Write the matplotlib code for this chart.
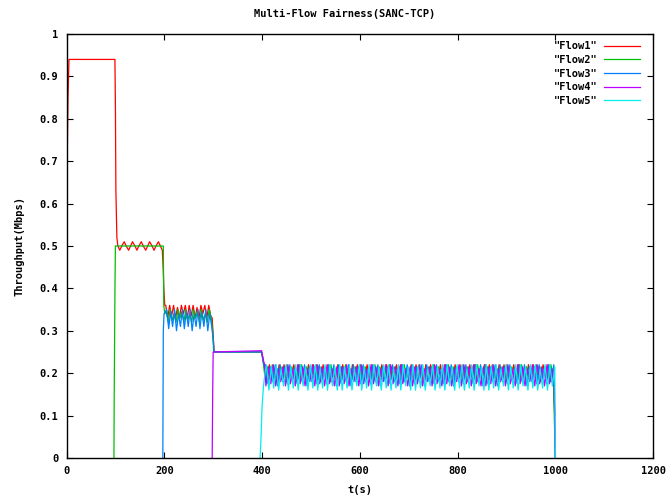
import numpy as np
import matplotlib
matplotlib.use("Agg")
import matplotlib.pyplot as plt

FONT = "DejaVu Sans Mono"
FS = 7.5
COLORS = ["#ff0000", "#00c000", "#0080ff", "#c000ff", "#00eeee"]
LABELS = ['"Flow1"', '"Flow2"', '"Flow3"', '"Flow4"', '"Flow5"']

X_TICKS = [0, 200, 400, 600, 800, 1000, 1200]
Y_TICKS = [0, 0.1, 0.2, 0.3, 0.4, 0.5, 0.6, 0.7, 0.8, 0.9, 1]
Y_TICK_LABELS = ["0", "0.1", "0.2", "0.3", "0.4", "0.5", "0.6", "0.7", "0.8", "0.9", "1"]

# ---- flow1 ----
T1_HEAD = [0, 1, 3, 5, 99, 100, 101, 103, 105,
           109, 113, 118, 122, 127, 131, 135, 140, 144, 148, 153, 157,
           162, 166, 170, 175, 179, 183, 188, 192, 196, 198, 199, 200, 201]
V1_HEAD = [0.29, 0.67, 0.85, 0.94, 0.94, 0.83, 0.63, 0.52, 0.50,
           0.49, 0.50, 0.51, 0.50, 0.49, 0.50, 0.51, 0.50, 0.49, 0.50, 0.51, 0.50,
           0.49, 0.50, 0.51, 0.50, 0.49, 0.50, 0.51, 0.50, 0.49, 0.44, 0.40, 0.38, 0.36]
V1_200 = [0.36, 0.33, 0.36, 0.335, 0.36, 0.33, 0.355, 0.33, 0.36, 0.34, 0.36, 0.33,
          0.36, 0.335, 0.36, 0.33, 0.355, 0.33, 0.36, 0.34, 0.36, 0.33, 0.36, 0.335]
T1_300 = [298, 300, 302, 399, 401, 403]
V1_300 = [0.33, 0.29, 0.25, 0.25, 0.24, 0.225]
V1_400 = [0.22, 0.18, 0.22, 0.19, 0.21, 0.18, 0.22, 0.185, 0.22, 0.18,
          0.215, 0.19, 0.22, 0.18, 0.22, 0.185, 0.21, 0.18, 0.22, 0.19,
          0.22, 0.185, 0.215, 0.18, 0.22, 0.19, 0.22, 0.18, 0.21, 0.185,
          0.22, 0.18, 0.22, 0.19, 0.21, 0.18, 0.22, 0.185, 0.22, 0.18,
          0.215, 0.19, 0.22, 0.18, 0.22, 0.185, 0.21, 0.18, 0.22, 0.19,
          0.22, 0.185, 0.215, 0.18, 0.22, 0.19, 0.22, 0.18, 0.21, 0.185,
          0.22, 0.18, 0.22, 0.19, 0.21, 0.18, 0.22, 0.185, 0.22, 0.18,
          0.215, 0.19, 0.22, 0.18, 0.22, 0.185, 0.21, 0.18, 0.22, 0.19,
          0.22, 0.185, 0.215, 0.18, 0.22, 0.19, 0.22, 0.18, 0.21, 0.185,
          0.22, 0.18, 0.22, 0.19, 0.21, 0.18, 0.22, 0.185, 0.22, 0.18,
          0.215, 0.19, 0.22, 0.18, 0.22, 0.185, 0.21, 0.18, 0.22, 0.19,
          0.22, 0.185, 0.215, 0.18, 0.22, 0.19, 0.22, 0.18, 0.21]
T1_END = [999]
V1_END = [0.10]

# ---- flow2 ----
T2_HEAD = [97, 97.5, 99, 100, 150, 198, 199, 201]
V2_HEAD = [0, 0.137, 0.39, 0.50, 0.50, 0.50, 0.36, 0.34]
V2_200 = [0.345, 0.32, 0.35, 0.325, 0.34, 0.32, 0.35, 0.33, 0.345, 0.32, 0.35, 0.325,
          0.34, 0.32, 0.35, 0.33, 0.345, 0.32, 0.35, 0.325, 0.34, 0.32, 0.35, 0.33]
T2_300 = [299, 301, 399, 402, 404]
V2_300 = [0.30, 0.25, 0.25, 0.23, 0.21]
V2_400 = [0.19, 0.215, 0.185, 0.22, 0.19, 0.21, 0.185, 0.215, 0.19, 0.22,
          0.185, 0.215, 0.19, 0.21, 0.185, 0.22, 0.19, 0.215, 0.185, 0.21,
          0.19, 0.22, 0.185, 0.215, 0.19, 0.215, 0.185, 0.22, 0.19, 0.21,
          0.19, 0.215, 0.185, 0.22, 0.19, 0.21, 0.185, 0.215, 0.19, 0.22,
          0.185, 0.215, 0.19, 0.21, 0.185, 0.22, 0.19, 0.215, 0.185, 0.21,
          0.19, 0.22, 0.185, 0.215, 0.19, 0.215, 0.185, 0.22, 0.19, 0.21,
          0.19, 0.215, 0.185, 0.22, 0.19, 0.21, 0.185, 0.215, 0.19, 0.22,
          0.185, 0.215, 0.19, 0.21, 0.185, 0.22, 0.19, 0.215, 0.185, 0.21,
          0.19, 0.22, 0.185, 0.215, 0.19, 0.215, 0.185, 0.22, 0.19, 0.21,
          0.19, 0.215, 0.185, 0.22, 0.19, 0.21, 0.185, 0.215, 0.19, 0.22,
          0.185, 0.215, 0.19, 0.21, 0.185, 0.22, 0.19, 0.215, 0.185, 0.21,
          0.19, 0.22, 0.185, 0.215, 0.19, 0.215, 0.185, 0.22, 0.19]
T2_END = [1000]
V2_END = [0]

# ---- flow3 ----
T3_HEAD = [197, 198, 199.5]
V3_HEAD = [0, 0.30, 0.34]
V3_200 = [0.35, 0.305, 0.345, 0.31, 0.35, 0.30, 0.34, 0.31, 0.35, 0.305, 0.345, 0.31,
          0.35, 0.30, 0.34, 0.31, 0.35, 0.305, 0.345, 0.31, 0.35, 0.30, 0.34, 0.31]
T3_300 = [300, 302, 399, 402, 405]
V3_300 = [0.28, 0.25, 0.25, 0.23, 0.215]
V3_400 = [0.22, 0.175, 0.215, 0.18, 0.22, 0.17, 0.22, 0.18, 0.215, 0.175,
          0.22, 0.18, 0.21, 0.175, 0.22, 0.18, 0.22, 0.17, 0.215, 0.18,
          0.215, 0.175, 0.22, 0.18, 0.21, 0.175, 0.22, 0.18, 0.22, 0.17,
          0.22, 0.175, 0.215, 0.18, 0.22, 0.17, 0.22, 0.18, 0.215, 0.175,
          0.22, 0.18, 0.21, 0.175, 0.22, 0.18, 0.22, 0.17, 0.215, 0.18,
          0.215, 0.175, 0.22, 0.18, 0.21, 0.175, 0.22, 0.18, 0.22, 0.17,
          0.22, 0.175, 0.215, 0.18, 0.22, 0.17, 0.22, 0.18, 0.215, 0.175,
          0.22, 0.18, 0.21, 0.175, 0.22, 0.18, 0.22, 0.17, 0.215, 0.18,
          0.215, 0.175, 0.22, 0.18, 0.21, 0.175, 0.22, 0.18, 0.22, 0.17,
          0.22, 0.175, 0.215, 0.18, 0.22, 0.17, 0.22, 0.18, 0.215, 0.175,
          0.22, 0.18, 0.21, 0.175, 0.22, 0.18, 0.22, 0.17, 0.215, 0.18,
          0.215, 0.175, 0.22, 0.18, 0.21, 0.175, 0.22, 0.18, 0.22]
T3_END = [1000]
V3_END = [0]

# ---- flow4 ----
T4_HEAD = [298, 299, 300, 399, 402, 405]
V4_HEAD = [0, 0.15, 0.25, 0.253, 0.235, 0.22]
V4_400 = [0.17, 0.215, 0.175, 0.22, 0.17, 0.21, 0.18, 0.215, 0.17, 0.22,
          0.175, 0.21, 0.17, 0.22, 0.175, 0.215, 0.17, 0.21, 0.18, 0.22,
          0.17, 0.22, 0.175, 0.215, 0.17, 0.22, 0.175, 0.21, 0.17, 0.215,
          0.17, 0.215, 0.175, 0.22, 0.17, 0.21, 0.18, 0.215, 0.17, 0.22,
          0.175, 0.21, 0.17, 0.22, 0.175, 0.215, 0.17, 0.21, 0.18, 0.22,
          0.17, 0.22, 0.175, 0.215, 0.17, 0.22, 0.175, 0.21, 0.17, 0.215,
          0.17, 0.215, 0.175, 0.22, 0.17, 0.21, 0.18, 0.215, 0.17, 0.22,
          0.175, 0.21, 0.17, 0.22, 0.175, 0.215, 0.17, 0.21, 0.18, 0.22,
          0.17, 0.22, 0.175, 0.215, 0.17, 0.22, 0.175, 0.21, 0.17, 0.215,
          0.17, 0.215, 0.175, 0.22, 0.17, 0.21, 0.18, 0.215, 0.17, 0.22,
          0.175, 0.21, 0.17, 0.22, 0.175, 0.215, 0.17, 0.21, 0.18, 0.22,
          0.17, 0.22, 0.175, 0.215, 0.17, 0.22, 0.175, 0.21, 0.17]
T4_END = [1000]
V4_END = [0]

# ---- flow5 ----
T5_HEAD = [396, 398, 400, 403, 406]
V5_HEAD = [0, 0.05, 0.12, 0.17, 0.20]
V5_400 = [0.22, 0.16, 0.215, 0.165, 0.22, 0.16, 0.21, 0.17, 0.22, 0.16,
          0.215, 0.165, 0.22, 0.16, 0.22, 0.17, 0.215, 0.16, 0.22, 0.165,
          0.22, 0.16, 0.21, 0.165, 0.22, 0.16, 0.22, 0.17, 0.215, 0.16,
          0.22, 0.16, 0.215, 0.165, 0.22, 0.16, 0.21, 0.17, 0.22, 0.16,
          0.215, 0.165, 0.22, 0.16, 0.22, 0.17, 0.215, 0.16, 0.22, 0.165,
          0.22, 0.16, 0.21, 0.165, 0.22, 0.16, 0.22, 0.17, 0.215, 0.16,
          0.22, 0.16, 0.215, 0.165, 0.22, 0.16, 0.21, 0.17, 0.22, 0.16,
          0.215, 0.165, 0.22, 0.16, 0.22, 0.17, 0.215, 0.16, 0.22, 0.165,
          0.22, 0.16, 0.21, 0.165, 0.22, 0.16, 0.22, 0.17, 0.215, 0.16,
          0.22, 0.16, 0.215, 0.165, 0.22, 0.16, 0.21, 0.17, 0.22, 0.16,
          0.215, 0.165, 0.22, 0.16, 0.22, 0.17, 0.215, 0.16, 0.22, 0.165,
          0.22, 0.16, 0.21, 0.165, 0.22, 0.16, 0.22, 0.17, 0.215]
T5_END = [1000]
V5_END = [0]


def build_flows():
    # sample times of the oscillating parts (every 4s / 5s)
    flows = []
    t1 = T1_HEAD + list(np.arange(203, 298, 4)) + T1_300 + list(np.arange(405, 1000, 5)) + T1_END
    v1 = V1_HEAD + V1_200 + V1_300 + V1_400 + V1_END
    flows.append((t1, v1))
    t2 = T2_HEAD + list(np.arange(204, 297, 4)) + T2_300 + list(np.arange(406, 1000, 5)) + T2_END
    v2 = V2_HEAD + V2_200 + V2_300 + V2_400 + V2_END
    flows.append((t2, v2))
    t3 = T3_HEAD + list(np.arange(205, 298, 4)) + T3_300 + list(np.arange(407, 1000, 5)) + T3_END
    v3 = V3_HEAD + V3_200 + V3_300 + V3_400 + V3_END
    flows.append((t3, v3))
    t4 = T4_HEAD + list(np.arange(408, 1000, 5)) + T4_END
    v4 = V4_HEAD + V4_400 + V4_END
    flows.append((t4, v4))
    t5 = T5_HEAD + list(np.arange(409, 1000, 5)) + T5_END
    v5 = V5_HEAD + V5_400 + V5_END
    flows.append((t5, v5))
    return flows


fig = plt.figure(figsize=(6.7, 4.99), dpi=100)
ax = fig.add_axes([0.0993, 0.0822, 0.8754, 0.8497])

for (t, v), color, label in zip(build_flows(), COLORS, LABELS):
    assert len(t) == len(v), label
    ax.plot(t, v, color=color, lw=0.9, label=label)

ax.set_xlim(0, 1200)
ax.set_ylim(0, 1)
ax.set_xticks(X_TICKS)
ax.set_yticks(Y_TICKS)
ax.set_yticklabels(Y_TICK_LABELS)
ax.tick_params(direction="in", length=4, width=0.8, top=True, right=True, pad=6)
for lbl in ax.get_xticklabels() + ax.get_yticklabels():
    lbl.set_fontfamily(FONT)
    lbl.set_fontweight("bold")
    lbl.set_fontsize(FS)
for sp in ax.spines.values():
    sp.set_linewidth(1.0)

# gnuplot centres the title a bit left of the plot box
fig.text(345 / 670, 1 - 14 / 499, "Multi-Flow Fairness(SANC-TCP)", ha="center", va="center",
         fontfamily=FONT, fontweight="bold", fontsize=FS)
ax.set_xlabel("t(s)", fontfamily=FONT, fontweight="bold", fontsize=FS, labelpad=6)
ax.set_ylabel("Throughput(Mbps)", fontfamily=FONT, fontweight="bold", fontsize=FS, labelpad=11)

leg = ax.legend(loc="upper right", frameon=False, markerfirst=False,
                prop={"family": FONT, "weight": "bold", "size": FS},
                handlelength=3.4, handletextpad=0.7, labelspacing=0.35,
                borderaxespad=0.3, bbox_to_anchor=(0.99, 1.0))

fig.savefig("out.png", dpi=100)
